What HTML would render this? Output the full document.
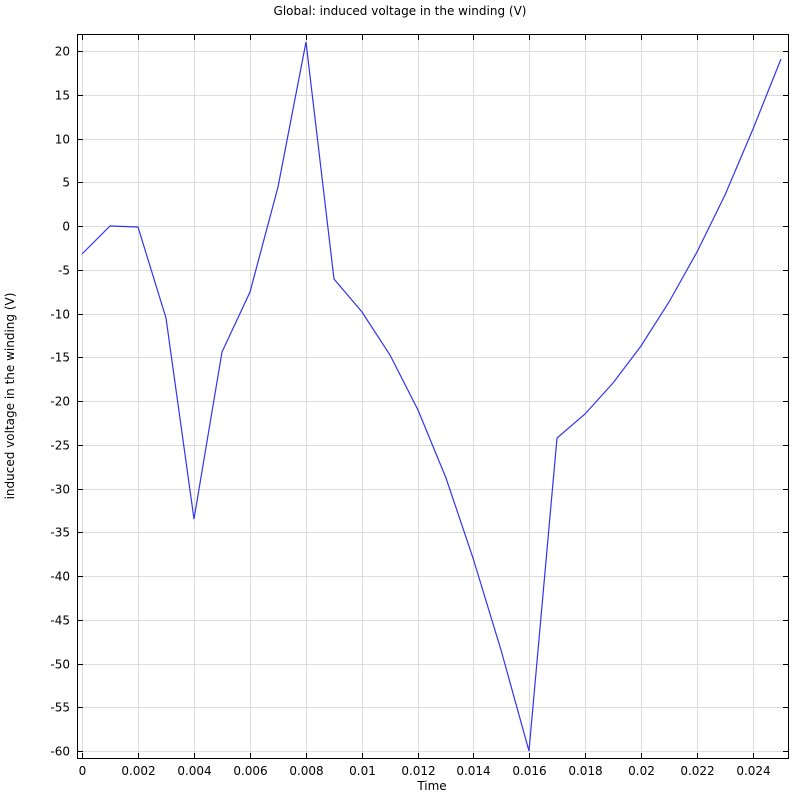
<!DOCTYPE html>
<html><head><style>body{margin:0;background:#fff}svg{display:block}text{font-family:"DejaVu Sans","Liberation Sans",sans-serif;font-size:12px;fill:#000}</style></head>
<body>
<svg width="800" height="800" xmlns="http://www.w3.org/2000/svg">
<rect width="800" height="800" fill="#fff"/>
<text x="400" y="15" text-anchor="middle" font-size="12">Global: induced voltage in the winding (V)</text>
<g id="g" stroke="#dcdcdc" stroke-width="1"></g>
<g id="t" stroke="#000" stroke-width="1"></g>
<g id="l"></g>
<rect x="77.5" y="34.5" width="711" height="724" fill="none" stroke="#000"/>
<polyline fill="none" stroke="#3333ee" stroke-width="1.2" points="82,254 110,226 138,227 166,318 194,519 222,352 250,292 278,187 306,42 334,279 362,312 390,355 418,410 446,478 473,558 501,650 529,751 557,438 585,414 613,383 641,346 669,302 697,252 725,195 753,129 781,59"/>
<text x="432" y="790" text-anchor="middle">Time</text>
<text transform="translate(14,396) rotate(-90)" text-anchor="middle">induced voltage in the winding (V)</text>
<script>
var g=document.getElementById('g'),t=document.getElementById('t'),l=document.getElementById('l'),ns='http://www.w3.org/2000/svg';
function ln(p,a,b,c,d){var e=document.createElementNS(ns,'line');e.setAttribute('x1',a);e.setAttribute('y1',b);e.setAttribute('x2',c);e.setAttribute('y2',d);p.appendChild(e);}
function tx(s,x,y,a){var e=document.createElementNS(ns,'text');e.setAttribute('x',x);e.setAttribute('y',y);e.setAttribute('text-anchor',a);e.textContent=s;l.appendChild(e);}
for(var i=0;i<=12;i++){var x=Math.round(82+i*55.92)+0.5;ln(g,x,35,x,758);ln(t,x,758,x,753);ln(t,x,35,x,40);tx(i==0?'0':(i*0.002).toFixed(3).replace(/0+$/,''),x,775,'middle');}
for(var v=20;v>=-60;v-=5){var y=Math.round(51+(20-v)*8.75)+0.5;ln(g,78,y,788,y);ln(t,78,y,83,y);ln(t,788,y,783,y);tx(String(v),70,y+4,'end');}
</script>
</svg>
</body></html>
